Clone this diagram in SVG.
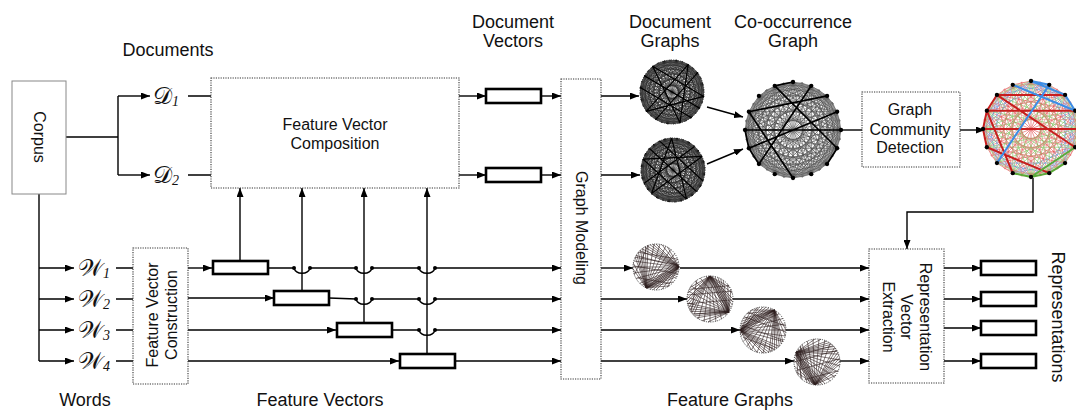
<svg xmlns="http://www.w3.org/2000/svg" xmlns:xlink="http://www.w3.org/1999/xlink" width="1076" height="410" viewBox="0 0 1076 410">
<style>
.lbl{font-family:"Liberation Sans",Arial,sans-serif;font-size:18px;fill:#111;text-anchor:middle}
.in{font-family:"Liberation Sans",Arial,sans-serif;font-size:16px;fill:#111;text-anchor:middle}
.math{font-family:"DejaVu Serif","DejaVu Sans","Noto Sans",serif;font-size:24px;fill:#111}
.sub{font-family:"Liberation Serif",serif;font-size:14px;font-style:italic}
.box{fill:#fff;stroke:#333;stroke-width:1.1;stroke-dasharray:1.2 1.2}
.vec{fill:#fff;stroke:#000;stroke-width:2.6}
.cn{fill:none;stroke:#000;stroke-width:1.4}
.ar{marker-end:url(#ah)}
.vs{fill:none;vector-effect:non-scaling-stroke}
.dotc{fill:none;stroke:#333;stroke-width:1;stroke-dasharray:1 1.3}
.fg{stroke:#2e1e1e;stroke-width:0.6}
</style>
<defs>
<marker id="ah" viewBox="0 0 9 7" refX="9" refY="3.5" markerWidth="9" markerHeight="7" markerUnits="userSpaceOnUse" orient="auto"><path d="M0,0L9,3.5L0,7z" fill="#000"/></marker>
<g id="kA"><path class="vs" d="M100,0L92,38L71,71L38,92L0,100L-38,92L-71,71L-92,38L-100,0L-92,-38L-71,-71L-38,-92L0,-100L38,-92L71,-71L92,-38Z M100,0L-38,92L-71,-71L92,-38L0,100L-92,-38L71,-71L38,92L-100,0L38,-92L71,71L-92,38L0,-100L92,38L-71,71L-38,-92Z M100,0L-100,0M92,38L-92,-38M71,71L-71,-71M38,92L-38,-92M0,100L0,-100M-38,92L38,-92M-71,71L71,-71M-92,38L92,-38"/></g>
<g id="kB"><path class="vs" d="M100,0L38,92L-71,71L-92,-38L0,-100L92,-38L71,71L-38,92L-100,0L-38,-92L71,-71L92,38L0,100L-92,38L-71,-71L38,-92Z M100,0L0,100L-100,0L0,-100Z M92,38L-38,92L-92,-38L38,-92Z M71,71L-71,71L-71,-71L71,-71Z M38,92L-92,38L-38,-92L92,-38Z"/></g>
<g id="kC"><path class="vs" d="M100,0L-92,38L71,-71L-38,92L0,-100L38,92L-71,-71L92,38L-100,0L92,-38L-71,71L38,-92L0,100L-38,-92L71,71L-92,-38Z M100,0L71,71L0,100L-71,71L-100,0L-71,-71L0,-100L71,-71Z M92,38L38,92L-38,92L-92,38L-92,-38L-38,-92L38,-92L92,-38Z M100,0L-71,71L0,-100L71,71L-100,0L71,-71L0,100L-71,-71Z M92,38L-92,38L38,-92L38,92L-92,-38L92,-38L-38,92L-38,-92Z"/></g>
<g id="k16"><use href="#kA"/><use href="#kB"/><use href="#kC"/></g>
<g id="nd" fill="#000"><circle cx="100" cy="0" r="4.5"/><circle cx="92" cy="38" r="4.5"/><circle cx="71" cy="71" r="4.5"/><circle cx="38" cy="92" r="4.5"/><circle cx="0" cy="100" r="4.5"/><circle cx="-38" cy="92" r="4.5"/><circle cx="-71" cy="71" r="4.5"/><circle cx="-92" cy="38" r="4.5"/><circle cx="-100" cy="0" r="4.5"/><circle cx="-92" cy="-38" r="4.5"/><circle cx="-71" cy="-71" r="4.5"/><circle cx="-38" cy="-92" r="4.5"/><circle cx="0" cy="-100" r="4.5"/><circle cx="38" cy="-92" r="4.5"/><circle cx="71" cy="-71" r="4.5"/><circle cx="92" cy="-38" r="4.5"/></g>
<path id="fan" class="vs" d="M100,0L0,100M100,0L-26,97M100,0L-50,87M100,0L-71,71M100,0L-87,50M100,0L-97,26M100,0L-100,0M100,0L-97,-26M100,0L-87,-50M100,0L-71,-71M100,0L-50,-87M100,0L-26,-97M100,0L0,-100M100,0L26,97M100,0L26,-97M100,0L50,87M100,0L50,-87M100,0L-13,99M100,0L-38,92M100,0L-61,79M100,0L-13,-99M100,0L-38,-92M100,0L-61,-79"/>
<path id="par" class="vs" d="M-87,-50L87,-50M-97,-26L97,-26M-97,12L97,12M-71,60L71,60M-50,-87L-87,50"/>
<path id="star" class="vs" d="M100,0L-71,71M100,0L-71,-71M-71,71L38,-92M-71,-71L38,92M38,-92L38,92M92,38L-92,-38M71,-71L-38,92M-100,0L71,71"/>
</defs>

<g id="labels">
<text class="lbl" x="168" y="56">Documents</text>
<text class="lbl" x="513" y="28">Document</text>
<text class="lbl" x="513" y="47">Vectors</text>
<text class="lbl" x="670" y="28">Document</text>
<text class="lbl" x="670" y="47">Graphs</text>
<text class="lbl" x="793" y="28">Co-occurrence</text>
<text class="lbl" x="793" y="47">Graph</text>
<text class="lbl" x="85" y="406">Words</text>
<text class="lbl" x="320" y="406">Feature Vectors</text>
<text class="lbl" x="730" y="406">Feature Graphs</text>
<text class="lbl" transform="translate(1052,317) rotate(90)" x="0" y="0">Representations</text>
</g>

<g id="connectors">
<path class="cn" d="M66,137H118M118,96V175"/>
<path class="cn ar" d="M118,96H150"/>
<path class="cn ar" d="M118,175H150"/>
<path class="cn" d="M188,96H211M188,175H211"/>
<path class="cn ar" d="M459,96H486"/>
<path class="cn ar" d="M459,175H486"/>
<path class="cn ar" d="M541,96H561"/>
<path class="cn ar" d="M541,175H561"/>
<path class="cn ar" d="M601,96H639"/>
<path class="cn ar" d="M601,175H640"/>
<path class="cn ar" d="M707,107L743,117"/>
<path class="cn ar" d="M707,164L743,149"/>
<path class="cn" d="M842,130H862"/>
<path class="cn ar" d="M960,130H985"/>
<path class="cn ar" d="M1033,178V212H907V249"/>
<path class="cn" d="M39,194V361"/>
<path class="cn ar" d="M39,268H74"/>
<path class="cn ar" d="M39,299H74"/>
<path class="cn ar" d="M39,330H74"/>
<path class="cn ar" d="M39,361H74"/>
<path class="cn" d="M116,268H133M116,299H133M116,330H133M116,361H133"/>
<path class="cn ar" d="M188,268H212"/>
<path class="cn ar" d="M188,298H274"/>
<path class="cn ar" d="M188,330H336"/>
<path class="cn ar" d="M188,361H399"/>
<path class="cn ar" d="M240,261V188"/>
<path class="cn ar" d="M302,291V188"/>
<path class="cn ar" d="M364,323V188"/>
<path class="cn ar" d="M427,354V188"/>
<path class="cn ar" d="M268,268H294C296,275 308,275 310,268H356C358,275 370,275 372,268H419C421,275 433,275 435,268H561"/>
<path class="cn ar" d="M329,298L356,299C358,306 370,306 372,299H419C421,306 433,306 435,299H561"/>
<path class="cn ar" d="M392,330H419C421,337 433,337 435,330H561"/>
<path class="cn ar" d="M455,361H561"/>
<g fill="#000"><circle cx="294" cy="268" r="2"/><circle cx="310" cy="268" r="2"/><circle cx="356" cy="268" r="2"/><circle cx="372" cy="268" r="2"/><circle cx="419" cy="268" r="2"/><circle cx="435" cy="268" r="2"/><circle cx="356" cy="299" r="2"/><circle cx="372" cy="299" r="2"/><circle cx="419" cy="299" r="2"/><circle cx="435" cy="299" r="2"/><circle cx="419" cy="330" r="2"/><circle cx="435" cy="330" r="2"/></g>
<path class="cn ar" d="M601,268H633"/>
<path class="cn ar" d="M680,268H869"/>
<path class="cn ar" d="M601,299H687"/>
<path class="cn ar" d="M733,299H869"/>
<path class="cn ar" d="M601,330H740"/>
<path class="cn ar" d="M786,330H869"/>
<path class="cn ar" d="M601,361H794"/>
<path class="cn ar" d="M840,361H869"/>
<path class="cn ar" d="M944,268H981"/>
<path class="cn ar" d="M944,299H981"/>
<path class="cn ar" d="M944,328H981"/>
<path class="cn ar" d="M944,361H981"/>
</g>

<g id="corpus"><rect x="12" y="81" width="54" height="113" fill="#fff" stroke="#888" stroke-width="1"/><text class="in" transform="translate(39,137) rotate(90)" x="0" y="5.5">Corpus</text></g>
<g id="d1"><text class="math" x="153" y="104">𝒟<tspan class="sub" dy="2">1</tspan></text></g>
<g id="d2"><text class="math" x="153" y="183">𝒟<tspan class="sub" dy="2">2</tspan></text></g>
<g id="w1"><text class="math" x="78" y="276">𝒲<tspan class="sub" dy="2">1</tspan></text></g>
<g id="w2"><text class="math" x="78" y="307">𝒲<tspan class="sub" dy="2">2</tspan></text></g>
<g id="w3"><text class="math" x="78" y="338">𝒲<tspan class="sub" dy="2">3</tspan></text></g>
<g id="w4"><text class="math" x="78" y="369">𝒲<tspan class="sub" dy="2">4</tspan></text></g>

<g id="fvcomp"><rect class="box" x="211" y="78" width="248" height="110"/><text class="in" x="335" y="130">Feature Vector</text><text class="in" x="335" y="149">Composition</text></g>
<g id="fvcons"><rect class="box" x="133" y="248" width="55" height="136"/><text class="in" transform="translate(160,315) rotate(-90)" x="0" y="-2">Feature Vector</text><text class="in" transform="translate(160,315) rotate(-90)" x="0" y="17">Construction</text></g>

<g id="fv1"><rect class="vec" x="213" y="261" width="55" height="13"/></g>
<g id="fv2"><rect class="vec" x="274" y="291" width="55" height="14"/></g>
<g id="fv3"><rect class="vec" x="337" y="323" width="55" height="14"/></g>
<g id="fv4"><rect class="vec" x="400" y="354" width="55" height="14"/></g>
<g id="dv1"><rect class="vec" x="486" y="89" width="55" height="14"/></g>
<g id="dv2"><rect class="vec" x="486" y="168" width="55" height="14"/></g>

<g id="graphmodeling"><rect class="box" x="561" y="79" width="40" height="300"/><text class="in" transform="translate(581,228) rotate(90)" x="0" y="5">Graph Modeling</text></g>

<g id="docgraph1"><circle class="dotc" cx="672" cy="92" r="32"/><use href="#k16" transform="translate(672,92) scale(0.32) rotate(8)" stroke="#111" stroke-width="0.55"/><use href="#k16" transform="translate(672,92) scale(0.32) rotate(19)" stroke="#333" stroke-width="0.45"/><use href="#star" transform="translate(672,92) scale(0.32) rotate(8)" stroke="#000" stroke-width="1.2"/></g>
<g id="docgraph2"><circle class="dotc" cx="673" cy="170" r="32"/><use href="#k16" transform="translate(673,170) scale(0.32) rotate(-15)" stroke="#111" stroke-width="0.55"/><use href="#k16" transform="translate(673,170) scale(0.32) rotate(-4)" stroke="#333" stroke-width="0.45"/><use href="#star" transform="translate(673,170) scale(0.32) rotate(200)" stroke="#000" stroke-width="1.2"/></g>

<g id="cooccurrence">
<use href="#k16" transform="translate(793,130) scale(0.48)" stroke="#333" stroke-width="0.6"/>
<use href="#k16" transform="translate(793,130) scale(0.48) rotate(11)" stroke="#666" stroke-width="0.45"/>
<path class="vs" transform="translate(793,130) scale(0.48)" stroke="#000" stroke-width="1.7" d="M-100,0L100,0M-38,-92L92,38M-71,71L38,-92M-92,38L92,-38M-92,-38L71,-71M0,100L-92,-38M-100,0L-92,38L-71,71M71,71L92,38M-38,-92L0,-100"/>
<use href="#nd" transform="translate(793,130) scale(0.48)"/>
</g>

<g id="community"><rect class="box" x="862" y="92" width="98" height="75"/><text class="in" x="910" y="115">Graph</text><text class="in" x="910" y="135">Community</text><text class="in" x="910" y="153">Detection</text></g>

<g id="coloredgraph">
<use href="#kA" transform="translate(1031,129) scale(0.48)" stroke="#e04b4b" stroke-width="0.6"/>
<use href="#kB" transform="translate(1031,129) scale(0.48)" stroke="#5b9be6" stroke-width="0.6"/>
<use href="#kC" transform="translate(1031,129) scale(0.48)" stroke="#7cc05a" stroke-width="0.6"/>
<use href="#kC" transform="translate(1031,129) scale(0.48) rotate(11)" stroke="#e87070" stroke-width="0.45"/>
<path class="vs" transform="translate(1031,129) scale(0.48)" stroke="#c81e1e" stroke-width="2" d="M-100,0L100,0M-92,-38L92,-38M-71,-71L92,38M-92,38L38,92M-92,38L-100,0L-92,-38L-71,-71M-71,-71L71,-71M-92,-38L-38,92"/>
<path class="vs" transform="translate(1031,129) scale(0.48)" stroke="#3d8de6" stroke-width="2" d="M38,-92L-71,71M0,-100L71,-71L92,-38M38,-92L0,-100M92,-38L-38,-92"/>
<path class="vs" transform="translate(1031,129) scale(0.48)" stroke="#5aaa3a" stroke-width="2" d="M-38,92L0,100L38,92L71,71M0,100L92,38"/>
<use href="#nd" transform="translate(1031,129) scale(0.48)"/>
</g>

<g id="fg1" class="fg"><circle class="dotc" cx="656" cy="267" r="23"/><g transform="translate(656,267) scale(0.23)"><use href="#fan"/><use href="#fan" transform="rotate(115)"/><use href="#par" transform="rotate(10)"/></g></g>
<g id="fg2" class="fg"><circle class="dotc" cx="710" cy="299" r="23"/><g transform="translate(710,299) scale(0.23)"><use href="#fan" transform="rotate(-90)"/><use href="#fan" transform="rotate(35)"/><use href="#par" transform="rotate(-5)"/></g></g>
<g id="fg3" class="fg"><circle class="dotc" cx="763" cy="330" r="23"/><g transform="translate(763,330) scale(0.23)"><use href="#fan" transform="rotate(180)"/><use href="#fan" transform="rotate(-60)"/><use href="#par" transform="rotate(20)"/></g></g>
<g id="fg4" class="fg"><circle class="dotc" cx="817" cy="362" r="23"/><g transform="translate(817,362) scale(0.23)"><use href="#fan" transform="rotate(205)"/><use href="#fan" transform="rotate(95)"/><use href="#par" transform="rotate(-15)"/></g></g>

<g id="rve"><rect class="box" x="869" y="249" width="75" height="134"/><g transform="translate(907,317) rotate(90)"><text class="in" x="0" y="-13">Representation</text><text class="in" x="0" y="6">Vector</text><text class="in" x="0" y="24">Extraction</text></g></g>
<g id="rep1"><rect class="vec" x="981" y="261" width="55" height="14"/></g>
<g id="rep2"><rect class="vec" x="981" y="292" width="55" height="14"/></g>
<g id="rep3"><rect class="vec" x="981" y="321" width="55" height="14"/></g>
<g id="rep4"><rect class="vec" x="981" y="354" width="55" height="14"/></g>
</svg>
